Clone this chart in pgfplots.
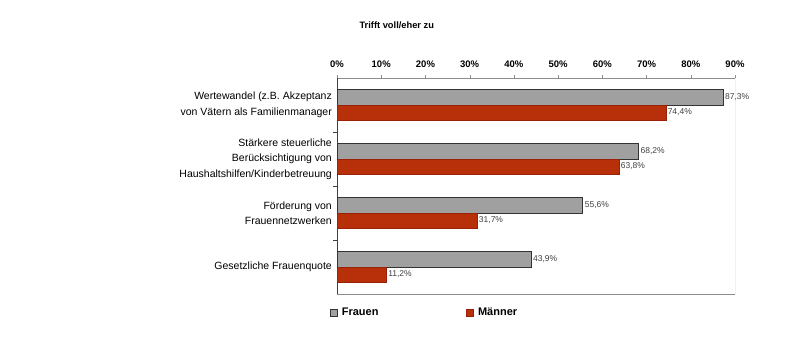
\documentclass[border=0pt]{standalone}
\usepackage{pgfplots}
\pgfplotsset{compat=1.18}
\usepackage{fontspec}
\setmainfont{Liberation Sans}
\definecolor{fgray}{HTML}{A0A0A0}
\definecolor{mred}{HTML}{B8300A}
\definecolor{mredd}{HTML}{9A2008}
\definecolor{vallab}{HTML}{404040}
\begin{document}
\begin{tikzpicture}
\useasboundingbox (0,0) rectangle (800pt,354pt);
\begin{axis}[
  at={(337pt,60pt)}, anchor=south west,
  scale only axis, width=398pt, height=216pt,
  xmin=0, xmax=90, ymin=-0.5, ymax=3.5,
  axis x line*=top, axis y line*=left,
  x axis line style={draw=gray!90, -}, y axis line style={draw=black!75, -},
  tick align=outside,
  major tick length=3pt, minor tick length=4pt,
  xtick={0,10,...,90},
  xticklabel={\pgfmathprintnumber{\tick}\%},
  /pgf/number format/assume math mode=true,
  xticklabel style={font=\bfseries\fontsize{9.5}{11}\selectfont, yshift=4pt},
  x tick style={draw=gray!90},
  ytick={0,1,2,3},
  yticklabels={Gesetzliche Frauenquote,
    {Förderung von\\Frauennetzwerken},
    {Stärkere steuerliche\\Berücksichtigung von\\Haushaltshilfen/Kinderbetreuung},
    {Wertewandel (z.B. Akzeptanz\\von Vätern als Familienmanager}},
  yticklabel style={align=right, font=\fontsize{10.5}{15.5}\selectfont, inner sep=2pt},
  minor ytick={0.5,1.5,2.5},
  y tick style={draw=black!75},
  every major y tick/.append style={draw=none},
  title={Trifft voll/eher zu},
  title style={at={(axis description cs:0.11,1)}, anchor=center, yshift=47pt, xshift=16pt,
    font=\bfseries\fontsize{9.3}{11}\selectfont},
  xbar, bar width=0.28,
  nodes near coords={\pgfmathprintnumber[fixed,fixed zerofill,precision=1,use comma]{\pgfplotspointmeta}\%},
  nodes near coords style={font=\fontsize{8.5}{10}\selectfont, text=vallab, anchor=west, inner sep=1.5pt},
  legend columns=2,
  legend style={at={(axis description cs:-0.0176,0)}, anchor=north west, yshift=-12pt,
    draw=none, fill=none, inner sep=0pt,
    font=\bfseries\fontsize{11}{13}\selectfont,
    /tikz/every odd column/.append style={column sep=2pt},
    /tikz/every even column/.append style={column sep=86pt}},
  legend image code/.code={\draw[#1, line width=0.6pt] (0pt,-3.5pt) rectangle (7pt,3.5pt);},
]
\addplot[fill=fgray, draw=black!80, line width=1pt, bar shift=0.14] coordinates {(87.3,3) (68.2,2) (55.6,1) (43.9,0)};
\addlegendentry{Frauen}
\addplot[fill=mred, draw=mredd, line width=0.5pt, bar shift=-0.14] coordinates {(74.4,3) (63.8,2) (31.7,1) (11.2,0)};
\addlegendentry{Männer}
\draw[gray!90] (rel axis cs:0,0) -- (rel axis cs:1,0) -- (rel axis cs:1,1);
\end{axis}
\end{tikzpicture}
\end{document}
